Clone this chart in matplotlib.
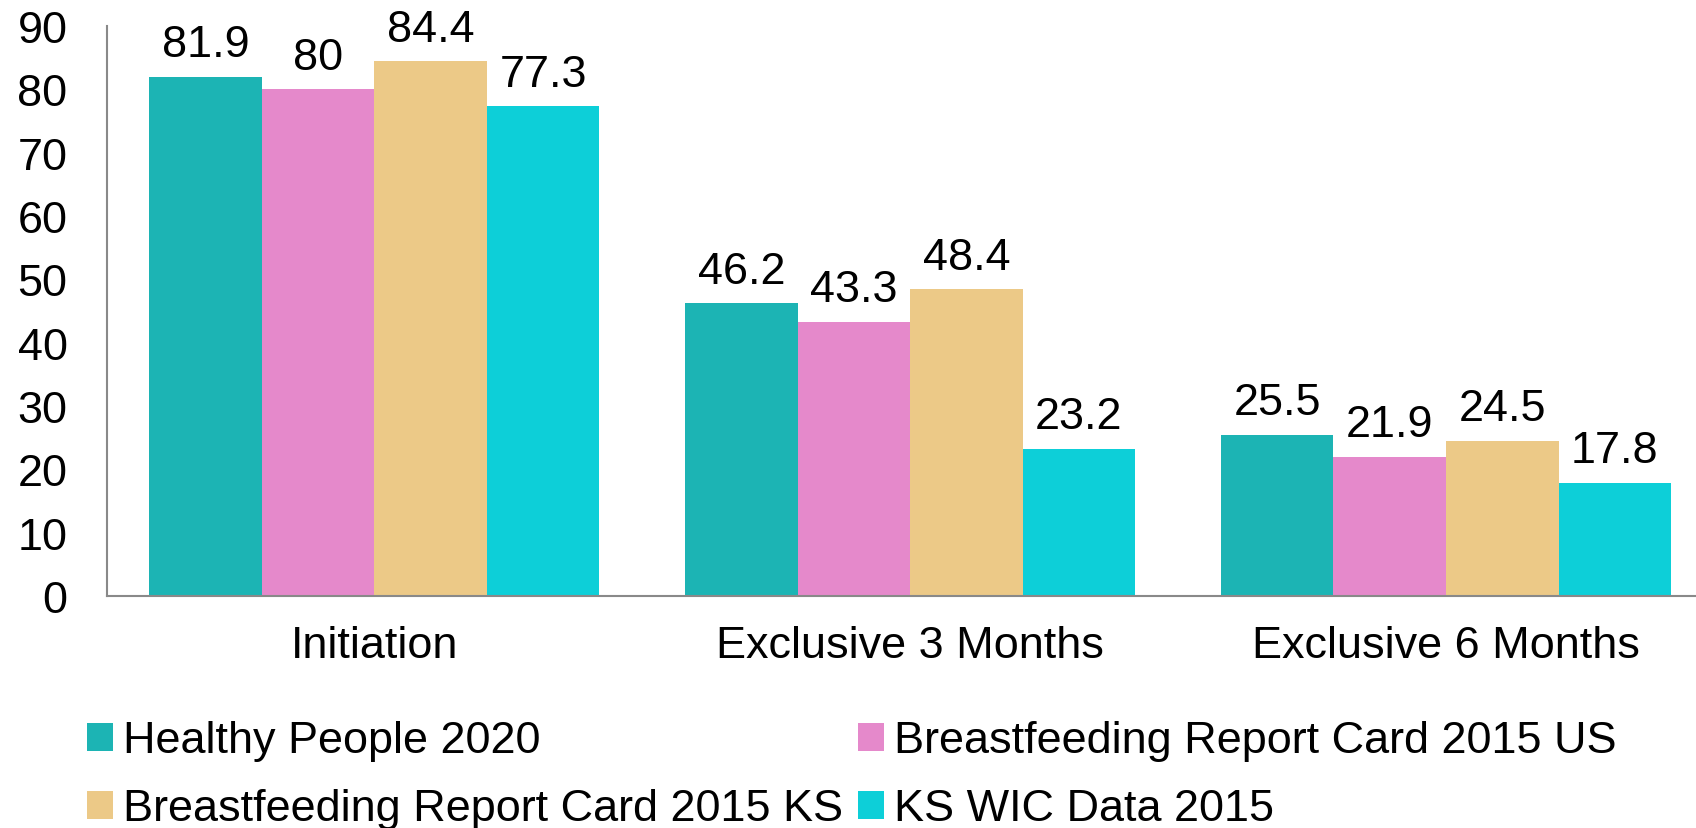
import matplotlib.pyplot as plt
import numpy as np

plt.rcParams['font.family'] = ['Liberation Sans', 'DejaVu Sans']

categories = ['Initiation', 'Exclusive 3 Months', 'Exclusive 6 Months']
series = ['Healthy People 2020', 'Breastfeeding Report Card 2015 US',
          'Breastfeeding Report Card 2015 KS', 'KS WIC Data 2015']
healthy_people = [81.9, 46.2, 25.5]
report_card_us = [80, 43.3, 21.9]
report_card_ks = [84.4, 48.4, 24.5]
ks_wic = [77.3, 23.2, 17.8]
values = [healthy_people, report_card_us, report_card_ks, ks_wic]
labels = [['81.9', '46.2', '25.5'], ['80', '43.3', '21.9'],
          ['84.4', '48.4', '24.5'], ['77.3', '23.2', '17.8']]
colors = ['#1cb4b4', '#e589cb', '#ecc987', '#0dcfd8']

fs = 32.4
fig = plt.figure(figsize=(16.96, 8.29), dpi=100)
ax = fig.add_axes([106.5 / 1696, 232 / 829, 1607.4 / 1696, 570 / 829])

x = np.arange(len(categories))
w = 0.21
handles = []
for i, (vals, c) in enumerate(zip(values, colors)):
    pos = x + (i - 1.5) * w
    b = ax.bar(pos, vals, w, color=c, linewidth=0, label=series[i])
    handles.append(b)
    for p, v, t in zip(pos, vals, labels[i]):
        ax.annotate(t, (p, v), xytext=(0, 15), textcoords='offset points',
                    ha='center', va='baseline', fontsize=fs)

ax.set_xlim(-0.5, 2.5)
ax.set_ylim(0, 90)
ax.set_yticks(range(0, 91, 10))
ax.set_xticks(x)
ax.set_xticklabels(categories)
ax.tick_params(axis='y', length=0, pad=28, labelsize=fs)
ax.tick_params(axis='x', length=0, pad=21, labelsize=fs)
for s in ['top', 'right']:
    ax.spines[s].set_visible(False)
for s in ['left', 'bottom']:
    ax.spines[s].set_color('#898989')
    ax.spines[s].set_linewidth(1.5)

# column-first fill, so reorder to read row by row
order = [0, 2, 1, 3]
fig.legend([handles[k] for k in order], [series[k] for k in order],
           ncol=2, loc='center left', bbox_to_anchor=(87 / 1696, 1 - 776 / 829),
           frameon=False, fontsize=fs, handlelength=0.58, handleheight=0.58,
           handletextpad=0.23, columnspacing=0.32, labelspacing=0.6,
           borderpad=0, borderaxespad=0)

fig.savefig('out.png', dpi=100)
